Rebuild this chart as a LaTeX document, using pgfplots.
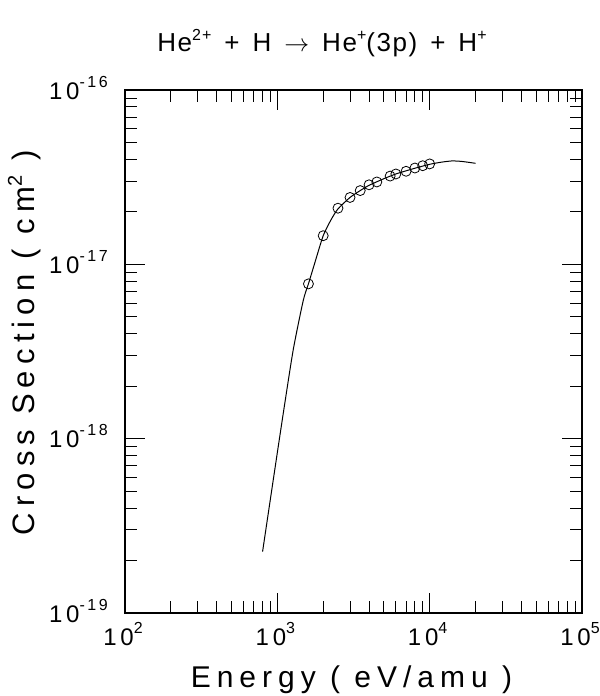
\documentclass[border=0pt]{standalone}
\usepackage{fontspec}
\setmainfont[LetterSpace=6]{Liberation Sans}
\newfontfamily\labfont[LetterSpace=20]{Liberation Sans}
\newfontfamily\tickfont[LetterSpace=16]{Liberation Sans}
\usepackage{pgfplots}
\pgfplotsset{compat=1.18}
\newcommand\tl[1]{{\tickfont\fontsize{24}{26}\selectfont 10\raisebox{12pt}{\fontsize{16}{16}\selectfont #1}}}
\newcommand\ts[1]{\raisebox{11pt}{\fontsize{16}{16}\selectfont #1}}
\begin{document}
\begin{tikzpicture}
\begin{axis}[
  xmode=log, ymode=log,
  xmin=100, xmax=100000, ymin=1e-19, ymax=1e-16,
  width=457pt, height=523pt, scale only axis,
  axis line style={line width=2.5pt},
  tick style={black, line width=0.9pt},
  major tick length=20pt, minor tick length=12pt,
  tick align=inside,
  xtick={100,1000,10000,100000},
  ytick={1e-19,1e-18,1e-17,1e-16},
  xticklabels={\tl{2},\tl{3},\tl{4},\tl{5}},
  yticklabels={\tl{-19},\tl{-18},\tl{-17},\tl{-16}},
  xticklabel style={anchor=base, inner sep=0pt, yshift=-32pt, xshift=-2pt},
  yticklabel style={anchor=base east, inner sep=0pt, xshift=-17pt, yshift=-9pt},
  clip=false,
]
\addplot[black, line width=1pt, smooth, tension=0.4] coordinates {
 (800,2.25e-19) (940,5.8e-19) (1094,1.40e-18) (1271,3.23e-18) (1479,6.2e-18)
 (1600,7.73e-18) (1750,1.0e-17) (2000,1.46e-17) (2250,1.80e-17) (2500,2.08e-17)
 (3000,2.42e-17) (3500,2.65e-17) (4000,2.84e-17) (5000,3.10e-17) (6000,3.30e-17)
 (7000,3.44e-17) (8000,3.56e-17) (10000,3.75e-17) (12000,3.86e-17) (14000,3.92e-17)
 (16000,3.90e-17) (18000,3.85e-17) (20000,3.80e-17)
};
\addplot[black, only marks, mark=o, mark size=5pt, mark options={line width=0.8pt}] coordinates {
 (1600,7.73e-18) (2000,1.46e-17) (2500,2.10e-17) (3000,2.42e-17) (3500,2.65e-17)
 (4000,2.86e-17) (4500,2.97e-17) (5500,3.21e-17) (6000,3.30e-17) (7000,3.42e-17)
 (8000,3.57e-17) (9000,3.68e-17) (10000,3.77e-17)
};
\end{axis}
\path (current axis.south west) ++(197pt,561pt) node[anchor=base, inner sep=0pt]
  {\fontsize{26}{30}\selectfont He\ts{2+}\enspace+\enspace H\enspace$\rightarrow$\enspace He\ts{+}(3p)\enspace+\enspace H\ts{+}};
\path (current axis.south west) ++(226.5pt,-74pt) node[anchor=base, inner sep=0pt]
  {\labfont\fontsize{30}{34}\selectfont Energy ( eV/amu )};
\path (current axis.south west) ++(-90pt,270pt) node[anchor=base, inner sep=0pt, rotate=90]
  {\labfont\fontsize{31}{34}\selectfont Cross Section ( cm\raisebox{13pt}{\fontsize{20}{20}\selectfont 2} )};
\path (current axis.south west) ++(-125pt,-83pt) rectangle ++(598pt,696pt);
\end{tikzpicture}
\end{document}
